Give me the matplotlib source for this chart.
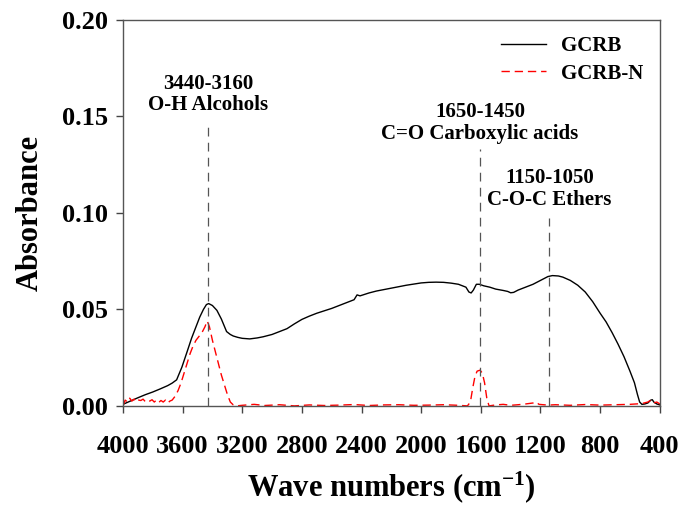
import matplotlib
matplotlib.use("Agg")
import matplotlib.pyplot as plt

plt.rcParams['font.family'] = ['Liberation Serif', 'DejaVu Serif']
plt.rcParams['font.weight'] = 'bold'
plt.rcParams['mathtext.fontset'] = 'custom'
plt.rcParams['mathtext.rm'] = 'Liberation Serif:bold'
plt.rcParams['mathtext.bf'] = 'Liberation Serif:bold'
plt.rcParams['mathtext.default'] = 'rm'

# GCRB spectrum (wave number, absorbance)
wn_gcrb = [4000, 3950, 3900, 3850, 3800, 3750, 3700, 3670, 3640, 3605, 3570, 3540,
           3510, 3485, 3460, 3440, 3425, 3400, 3370, 3340, 3305, 3280, 3260,
           3230, 3200, 3150, 3100, 3060, 3000, 2950, 2900, 2850, 2800, 2750, 2700,
           2640, 2600, 2550, 2500, 2450, 2430, 2410, 2350, 2300, 2200, 2100, 2000,
           1950, 1900, 1850, 1800, 1750, 1700, 1680, 1665, 1650, 1630, 1610, 1580,
           1540, 1500, 1450, 1420, 1400, 1380, 1350, 1300, 1250, 1200, 1150, 1120,
           1080, 1050, 1000, 950, 900, 850, 800, 760, 720, 680, 640, 600, 570, 550,
           535, 520, 500, 480, 460, 450, 440, 420, 400]
abs_gcrb = [0.0008, 0.0025, 0.0042, 0.0058, 0.0072, 0.0088, 0.0105, 0.0118, 0.0135,
            0.020, 0.028, 0.035, 0.041, 0.046, 0.050, 0.0525, 0.053, 0.052, 0.0495,
            0.045, 0.0385, 0.0370, 0.0362, 0.0355, 0.035, 0.0347, 0.0352, 0.0358,
            0.037, 0.0385, 0.040, 0.0425, 0.0448, 0.0465, 0.048, 0.0495, 0.0505, 0.052,
            0.0535, 0.055, 0.0575, 0.057, 0.0585, 0.0595, 0.061, 0.0625, 0.0637,
            0.064, 0.0641, 0.064, 0.0636, 0.063, 0.0615, 0.059, 0.0585, 0.060, 0.063,
            0.063, 0.0622, 0.0615, 0.0605, 0.0598, 0.0593, 0.0586, 0.0588, 0.060,
            0.0615, 0.063, 0.065, 0.067, 0.0675, 0.0673, 0.0667, 0.065, 0.0625, 0.059,
            0.054, 0.048, 0.0435, 0.038, 0.032, 0.0255, 0.018, 0.012, 0.006, 0.002,
            0.0008, 0.001, 0.0015, 0.003, 0.0032, 0.002, 0.001, 0.0005]

# GCRB-N spectrum
wn_n = [4000, 3985, 3970, 3955, 3940, 3925, 3910, 3895, 3880, 3865, 3850, 3835, 3820,
        3805, 3790, 3775, 3760, 3745, 3730, 3715, 3700, 3685, 3670, 3650, 3630, 3610,
        3590, 3570, 3550, 3530, 3510, 3490, 3470, 3450, 3435, 3420, 3400, 3380, 3360,
        3340, 3320, 3300, 3280, 3260, 3240, 3200, 3120, 3050, 2950, 2850, 2750, 2650,
        2550, 2450, 2350, 2250, 2150, 2050, 1950, 1850, 1750, 1690, 1670, 1655, 1640,
        1625, 1605, 1590, 1575, 1560, 1545, 1500, 1450, 1400, 1350, 1300, 1250, 1230,
        1210, 1150, 1100, 1000, 900, 800, 700, 600, 520, 480, 460, 440, 420, 400]
abs_n = [0.000, 0.003, 0.002, 0.004, 0.0025, 0.0035, 0.002, 0.003, 0.0028, 0.0035,
         0.0022, 0.003, 0.0025, 0.0032, 0.002, 0.003, 0.0018, 0.0028, 0.002, 0.003,
         0.0015, 0.0025, 0.003, 0.005, 0.008, 0.012, 0.017, 0.022, 0.027, 0.031, 0.034,
         0.036, 0.038, 0.041, 0.044, 0.041, 0.034, 0.028, 0.022, 0.016, 0.011, 0.006,
         0.002, 0.0005, 0.0, 0.0003, 0.0008, 0.0002, 0.0006, 0.0, 0.0005, 0.0002,
         0.0004, 0.0007, 0.0002, 0.0005, 0.0006, 0.0003, 0.0004, 0.0006, 0.0003, 0.0,
         0.002, 0.009, 0.015, 0.018, 0.0185, 0.017, 0.012, 0.004, 0.0, 0.0005, 0.0008,
         0.0003, 0.0006, 0.001, 0.0015, 0.002, 0.0008, 0.0004, 0.0006, 0.0003, 0.0007,
         0.0004, 0.0006, 0.0008, 0.0012, 0.002, 0.003, 0.0015, 0.002, 0.001]

# band markers: position, label, top of dashed line, bottom of label
band_pos = [3430, 1605, 1140]
band_labels = ['3440-3160\nO-H Alcohols', '1650-1450\nC=O Carboxylic acids',
               '1150-1050\nC-O-C Ethers']
band_top = [0.1446, 0.1332, 0.0974]
band_text_y = [0.1505, 0.1358, 0.1015]

fig = plt.figure(figsize=(6.83, 5.08), dpi=100)
ax = fig.add_axes([0.180, 0.201, 0.786, 0.760])

ax.plot(wn_gcrb, abs_gcrb, color='black', lw=1.0, label='GCRB')
ax.plot(wn_n, abs_n, color='red', lw=1.0, dashes=(6, 3.5), label='GCRB-N')

for p, lab, top, ty in zip(band_pos, band_labels, band_top, band_text_y):
    ax.plot([p, p], [0, top], color='#555555', lw=0.9, dashes=(7, 5))
    ax.text(p, ty, lab, ha='center', va='bottom', fontsize=15,
            fontweight='bold', linespacing=1.1)

ax.set_xlim(4000, 400)
ax.set_ylim(0, 0.20)
ax.set_xticks([4000, 3600, 3200, 2800, 2400, 2000, 1600, 1200, 800, 400])
ax.set_yticks([0.00, 0.05, 0.10, 0.15, 0.20])
ax.set_yticklabels(['0.00', '0.05', '0.10', '0.15', '0.20'])
ax.tick_params(direction='out', length=5, width=1, colors='#444444',
               labelcolor='black', labelsize=19)
ax.tick_params(axis='x', pad=16)
ax.tick_params(axis='y', pad=6)
for lab in ax.get_xticklabels() + ax.get_yticklabels():
    lab.set_fontweight('bold')
for s in ax.spines.values():
    s.set_color('#555555')
    s.set_linewidth(1.0)

ax.set_xlabel('Wave numbers (cm$^{-1}$)', fontsize=22, fontweight='bold', labelpad=8)
ax.set_ylabel('Absorbance', fontsize=22, fontweight='bold', labelpad=12)

leg = ax.legend(loc='upper right', frameon=False, fontsize=15, handlelength=2.15,
                handletextpad=0.7, borderaxespad=0.4, labelspacing=0.35)

fig.savefig('out.png', dpi=100)
